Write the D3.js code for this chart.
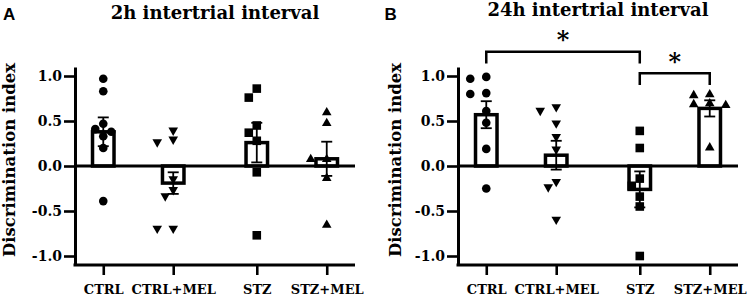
<!DOCTYPE html>
<html><head><meta charset="utf-8">
<script src="https://cdn.jsdelivr.net/npm/d3@7"></script>
<style>body{margin:0;background:#fff;} svg{display:block}</style>
</head><body><svg id="c" width="747" height="297"></svg>
<script>
// ---------- data ----------
const categories = ["CTRL", "CTRL+MEL", "STZ", "STZ+MEL"];
const groups = ["CTRL", "STZ"];
const subgroups = ["", "+MEL"];
const yTicks = [-1.0, -0.5, 0.0, 0.5, 1.0];
const yLabel = "Discrimination index";
const panelLetters = ["A", "B"];
const panelTitles = ["2h intertrial interval", "24h intertrial interval"];

// Panel A (2h)
const ctrlA    = [0.97, 0.83, 0.47, 0.41, 0.38, 0.33, 0.20, -0.39];
const ctrlMelA = [0.38, 0.28, 0.25, -0.16, -0.28, -0.35, -0.71, -0.71];
const stzA     = [0.86, 0.76, 0.45, 0.37, 0.28, -0.07, -0.77];
const stzMelA  = [0.61, 0.49, 0.09, 0.09, -0.12, -0.64];
const meanA    = [0.38, -0.19, 0.26, 0.08];
const semA     = [0.16, 0.12, 0.22, 0.19];

// Panel B (24h)
const ctrlB    = [0.99, 0.97, 0.81, 0.80, 0.61, 0.48, 0.19, -0.25];
const ctrlMelB = [0.64, 0.60, 0.46, 0.31, 0.17, -0.19, -0.25, -0.61];
const stzB     = [0.39, 0.20, -0.14, -0.22, -0.34, -0.45, -1.00];
const stzMelB  = [0.81, 0.80, 0.71, 0.70, 0.69, 0.22];
const meanB    = [0.57, 0.12, -0.26, 0.64];
const semB     = [0.15, 0.16, 0.20, 0.09];

// significance brackets (panel B)
const sigPairs  = [["CTRL", "STZ"], ["STZ", "STZ+MEL"]];
const sigLevels = [1.27, 1.03];
const sigLegs   = [1.14, 0.90];
const sigLabels = ["*", "*"];

// ---------- drawing ----------
const svg = d3.select("#c");
const serif = "'DejaVu Serif', serif";
const sans = "'Liberation Sans', Arial, sans-serif";

const panels = [
  {letter: panelLetters[0], title: panelTitles[0], series: [ctrlA, ctrlMelA, stzA, stzMelA], means: meanA, sems: semA,
   left: 75, right: 355, letterX: 3, letterY: 20, titleY: 19, ylabX: 15, brackets: false},
  {letter: panelLetters[1], title: panelTitles[1], series: [ctrlB, ctrlMelB, stzB, stzMelB], means: meanB, sems: semB,
   left: 458, right: 738, letterX: 384.5, letterY: 19.5, titleY: 16, ylabX: 401, brackets: true}
];

const y = d3.scaleLinear().domain([-1.1, 1.1]).range([265, 67]);

const shapes = ["circle", "triDown", "square", "triUp"];
function markerPath(shape) {
  if (shape === "circle") return d3.symbol(d3.symbolCircle, Math.PI * 4.3 * 4.3)();
  if (shape === "square") return "M-4.3,-4.3H4.3V4.3H-4.3Z";
  if (shape === "triUp") return "M0,-4.2L4.8,4.2L-4.8,4.2Z";
  return "M0,4.2L4.8,-4.2L-4.8,-4.2Z";
}

function swarm(vals, d, s) {
  const idx = vals.map((v, i) => i).sort((a, b) => vals[b] - vals[a]);
  const off = new Array(vals.length).fill(0);
  const placed = [];
  idx.forEach(i => {
    const yy = y(vals[i]);
    const cands = [0];
    for (let k = 1; k < 6; k++) { cands.push(-k * s, k * s); }
    for (const c of cands) {
      if (placed.every(p => Math.hypot(p[0] - c, p[1] - yy) >= d)) {
        off[i] = c; placed.push([c, yy]); break;
      }
    }
  });
  return off;
}

panels.forEach(P => {
  const g = svg.append("g");
  const outer = d3.scaleBand().domain(groups).range([P.left, P.right]).paddingInner(0.3).paddingOuter(0.062);
  const inner = d3.scalePoint().domain(subgroups).range([0, outer.bandwidth()]).padding(0.268);
  const xPos = cat => {
    const sub = cat.includes("+MEL") ? "+MEL" : "";
    const grp = cat.replace("+MEL", "");
    return outer(grp) + inner(sub);
  };
  const x = d3.scaleOrdinal().domain(categories).range(categories.map(xPos));

  // panel letter + title
  g.append("text").attr("x", P.letterX).attr("y", P.letterY).text(P.letter)
    .attr("font-family", sans).attr("font-weight", "bold").attr("font-size", 17);
  g.append("text").attr("x", (P.left + P.right) / 2).attr("y", P.titleY).text(P.title)
    .attr("text-anchor", "middle").attr("font-family", serif).attr("font-weight", "bold").attr("font-size", 18);

  // y label
  g.append("text").attr("transform", `translate(${P.ylabX},160) rotate(-90)`).text(yLabel)
    .attr("text-anchor", "middle").attr("font-family", serif).attr("font-weight", "bold").attr("font-size", 16.5);

  // bars
  categories.forEach((c, i) => {
    const m = P.means[i];
    g.append("rect").attr("x", x(c) - 10.75).attr("width", 21.5)
      .attr("y", Math.min(y(0), y(m))).attr("height", Math.abs(y(0) - y(m)))
      .attr("fill", "#fff").attr("stroke", "#000").attr("stroke-width", 3.5);
  });

  // points
  categories.forEach((c, i) => {
    const vals = P.series[i];
    const off = swarm(vals, 9, 8);
    g.append("g").selectAll("path").data(vals).join("path")
      .attr("d", markerPath(shapes[i]))
      .attr("transform", (v, j) => `translate(${x(c) + off[j]},${y(v)})`)
      .attr("fill", "#000");
  });

  // error bars
  categories.forEach((c, i) => {
    const m = P.means[i], s = P.sems[i], cx = x(c);
    const eg = g.append("g").attr("stroke", "#000").attr("stroke-width", 1.8);
    eg.append("line").attr("x1", cx).attr("x2", cx).attr("y1", y(m - s)).attr("y2", y(m + s));
    [m - s, m + s].forEach(v => eg.append("line").attr("x1", cx - 5.5).attr("x2", cx + 5.5).attr("y1", y(v)).attr("y2", y(v)));
  });

  // zero line
  g.append("line").attr("x1", P.left).attr("x2", P.right).attr("y1", y(0)).attr("y2", y(0))
    .attr("stroke", "#000").attr("stroke-width", 3);

  // y axis
  const ya = g.append("g").attr("transform", `translate(${P.left},0)`)
    .call(d3.axisLeft(y).tickValues(yTicks).tickFormat(d => d.toFixed(1)).tickSize(11).tickPadding(2).tickSizeOuter(0));
  ya.select(".domain").attr("stroke-width", 3);
  ya.selectAll(".tick line").attr("stroke-width", 2.6);
  ya.selectAll("text").attr("font-family", serif).attr("font-weight", "bold").attr("font-size", 14).attr("fill", "#000");

  // x axis
  const xa = g.append("g").attr("transform", `translate(0,${y(-1.1)})`)
    .call(d3.axisBottom(x).tickSize(10).tickPadding(10).tickSizeOuter(0));
  xa.select(".domain").remove();
  xa.append("line").attr("x1", P.left - 1.5).attr("x2", P.right).attr("stroke", "#000").attr("stroke-width", 3);
  xa.selectAll(".tick line").attr("stroke-width", 2.6);
  xa.selectAll("text").attr("font-family", serif).attr("font-weight", "bold").attr("font-size", 13).attr("fill", "#000");

  // brackets
  if (P.brackets) {
    sigPairs.forEach((pr, k) => {
      const x1 = x(pr[0]), x2 = x(pr[1]);
      g.append("path").attr("d", `M${x1},${y(sigLegs[k])}V${y(sigLevels[k])}H${x2}V${y(sigLegs[k])}`)
        .attr("fill", "none").attr("stroke", "#000").attr("stroke-width", 2.5);
      const t = g.append("text").attr("x", (x1 + x2) / 2).attr("y", 0).text(sigLabels[k])
        .attr("text-anchor", "middle").attr("font-family", serif).attr("font-weight", "bold").attr("font-size", 24);
      const bb = t.node().getBBox();
      t.attr("y", y(sigLevels[k]) - 18 - (bb.y + bb.height * 0.3));
    });
  }
});
</script>
</body></html>
